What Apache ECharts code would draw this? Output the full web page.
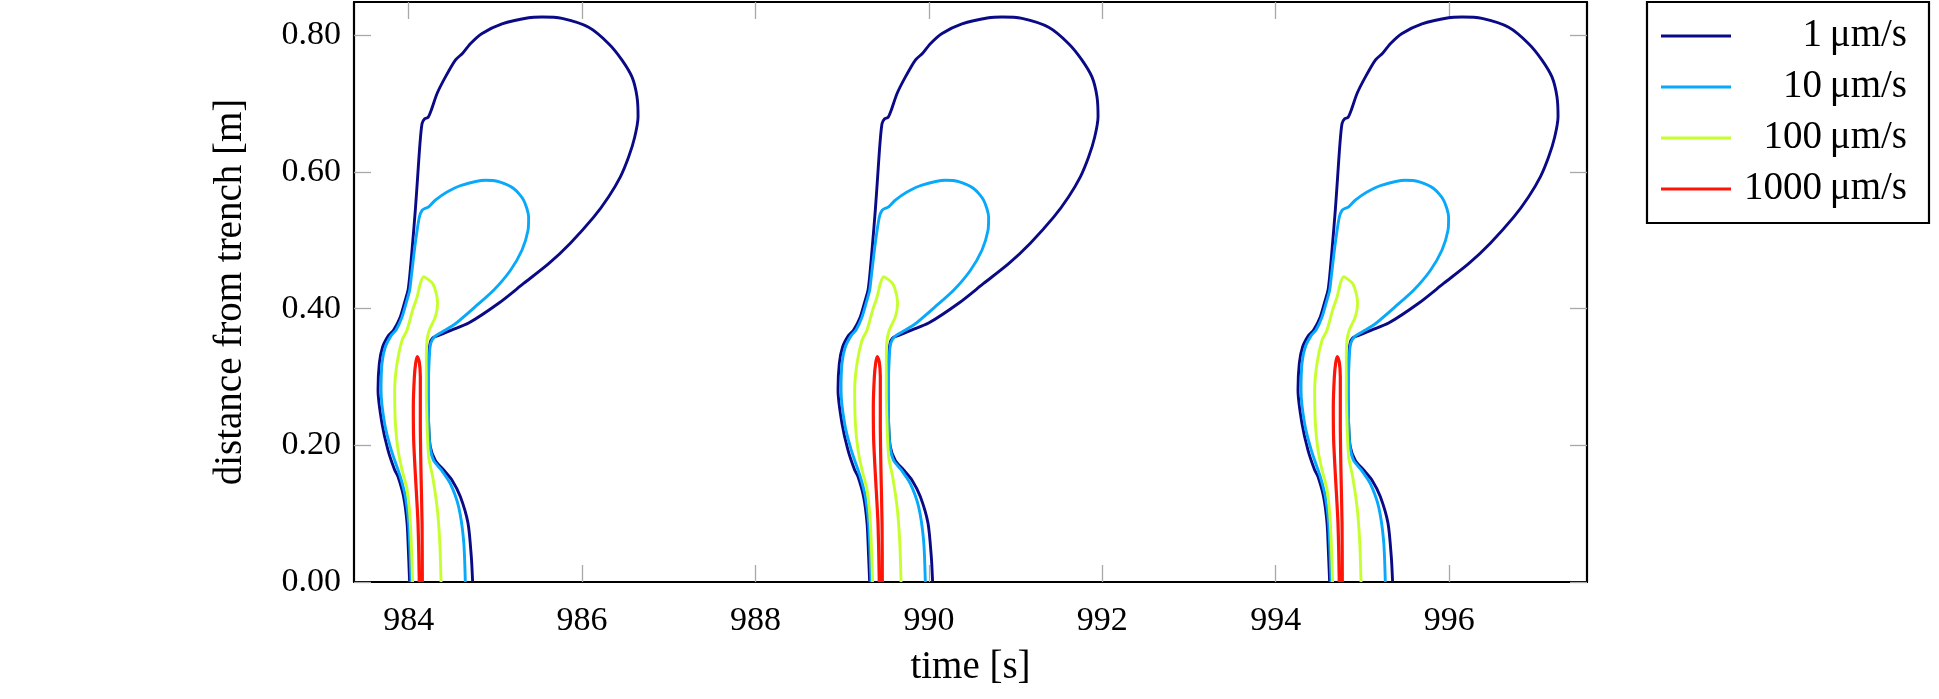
<!DOCTYPE html>
<html>
<head>
<meta charset="utf-8">
<script src="https://cdn.jsdelivr.net/npm/echarts@6/dist/echarts.min.js"></script>
<style>
html,body{margin:0;padding:0;background:#fff;}
#chart{width:1939px;height:699px;}
</style>
</head>
<body>
<div id="chart"></div>
<script>
// ---- data (first cycle; the pattern repeats) ----
const seriesNames = ['1\u2009\u03bcm/s', '10\u2009\u03bcm/s', '100\u2009\u03bcm/s', '1000\u2009\u03bcm/s'];
const cycleShift = [0, 5.305, 10.61];
const xTicks = [984, 986, 988, 990, 992, 994, 996];
const yTicks = [0, 0.2, 0.4, 0.6, 0.8];

const time1 = [984.012,984.000,983.982,983.942,983.878,983.839,983.762,983.693,983.647,983.662,983.700,983.769,983.827,983.904,983.962,983.993,984.012,984.046,984.077,984.104,984.131,984.155,984.185,984.224,984.262,984.328,984.423,984.539,984.623,984.712,984.847,985.077,985.384,985.539,985.769,986.076,986.307,986.461,986.577,986.634,986.646,986.607,986.537,986.442,986.307,986.134,985.865,985.615,985.326,985.038,984.692,984.501,984.346,984.277,984.247,984.231,984.224,984.231,984.250,984.308,984.404,984.501,984.596,984.685,984.723,984.738];
const dist1 = [0.000,0.037,0.086,0.125,0.154,0.164,0.193,0.232,0.281,0.320,0.344,0.361,0.369,0.388,0.413,0.427,0.447,0.496,0.544,0.593,0.642,0.671,0.678,0.680,0.691,0.715,0.739,0.764,0.774,0.788,0.803,0.817,0.826,0.827,0.825,0.812,0.788,0.764,0.739,0.710,0.681,0.651,0.622,0.593,0.564,0.534,0.496,0.466,0.437,0.408,0.379,0.369,0.361,0.357,0.349,0.330,0.281,0.232,0.198,0.178,0.164,0.149,0.125,0.086,0.037,0.000];

const time10 = [984.028,984.000,983.962,983.904,983.800,983.723,983.682,983.693,983.731,983.800,983.855,983.924,983.982,984.012,984.031,984.077,984.123,984.155,984.193,984.231,984.308,984.443,984.616,984.885,985.038,985.211,985.326,985.384,985.377,985.308,985.173,984.980,984.769,984.539,984.385,984.300,984.254,984.239,984.227,984.231,984.247,984.288,984.377,984.481,984.577,984.634,984.654];
const dist10 = [0.000,0.086,0.125,0.154,0.193,0.232,0.281,0.320,0.344,0.361,0.369,0.388,0.413,0.427,0.447,0.496,0.534,0.544,0.547,0.549,0.559,0.571,0.581,0.588,0.586,0.576,0.559,0.534,0.515,0.486,0.456,0.427,0.403,0.378,0.366,0.359,0.349,0.330,0.281,0.232,0.198,0.178,0.164,0.144,0.110,0.061,0.000];

const time100 = [984.046,984.020,983.982,983.924,983.878,983.847,983.839,983.866,983.924,983.982,984.046,984.097,984.135,984.173,984.212,984.277,984.319,984.334,984.308,984.239,984.212,984.204,984.204,984.212,984.231,984.277,984.328,984.358,984.374];
const dist100 = [0.000,0.086,0.135,0.164,0.193,0.232,0.281,0.320,0.354,0.369,0.398,0.417,0.437,0.447,0.444,0.437,0.422,0.408,0.388,0.369,0.354,0.330,0.281,0.232,0.183,0.154,0.110,0.061,0.000];

const time1000 = [984.123,984.108,984.077,984.058,984.054,984.066,984.081,984.100,984.123,984.135,984.135,984.143,984.155,984.158];
const dist1000 = [0.000,0.086,0.159,0.208,0.256,0.300,0.320,0.330,0.322,0.300,0.232,0.159,0.086,0.000];

// ---- build chart ----
const times = [time1, time10, time100, time1000];
const dists = [dist1, dist10, dist100, dist1000];
const colors = ['#0a0a86', '#08a8fa', '#c6ff2e', '#ff1408'];
const widths = [2.9, 2.9, 2.9, 3.2];
const FONT = 'Liberation Serif';

const series = [];
seriesNames.forEach((name, i) => {
  cycleShift.forEach(shift => {
    series.push({
      name: name,
      type: 'line',
      symbol: 'none',
      smooth: 0.25,
      animation: false,
      color: colors[i],
      lineStyle: {color: colors[i], width: widths[i]},
      data: times[i].map((t, k) => [t + shift, dists[i][k]])
    });
  });
});

const tickStyle = {show: true, inside: true, length: 17, lineStyle: {color: '#a8a8a8', width: 1.3}};
const lineStyle = {show: true, onZero: false, lineStyle: {color: '#000', width: 2.2}};

const chart = echarts.init(document.getElementById('chart'), null, {renderer: 'canvas'});
chart.setOption({
  backgroundColor: '#fff',
  animation: false,
  textStyle: {fontFamily: FONT},
  grid: {left: 354, right: 352, top: 2, bottom: 117},
  legend: {
    orient: 'vertical',
    left: 1647, top: 2,
    padding: [14, 22, 14, 14],
    itemGap: 11,
    icon: 'rect',
    itemWidth: 70, itemHeight: 3,
    borderColor: '#000', borderWidth: 2.2, borderRadius: 0,
    data: seriesNames,
    formatter: n => '{r|' + n + '}',
    textStyle: {
      fontFamily: FONT, fontSize: 39, color: '#000', lineHeight: 40,
      rich: {r: {fontFamily: FONT, fontSize: 39, color: '#000', width: 171, align: 'right', lineHeight: 40}}
    }
  },
  xAxis: [{
    type: 'value', min: 983.37, max: 997.59, position: 'bottom',
    name: 'time [s]', nameLocation: 'middle', nameGap: 66,
    nameTextStyle: {fontFamily: FONT, fontSize: 39, color: '#000'},
    axisLine: lineStyle,
    axisTick: Object.assign({customValues: xTicks}, tickStyle),
    axisLabel: {customValues: xTicks, margin: 22, fontFamily: FONT, fontSize: 34, color: '#000', formatter: v => String(v)},
    splitLine: {show: false}
  }, {
    type: 'value', min: 983.37, max: 997.59, position: 'top',
    axisLine: lineStyle,
    axisTick: Object.assign({customValues: xTicks}, tickStyle),
    axisLabel: {show: false},
    splitLine: {show: false}
  }],
  yAxis: [{
    type: 'value', min: 0, max: 0.849, position: 'left',
    name: 'distance from trench [m]', nameLocation: 'middle', nameGap: 104,
    nameTextStyle: {fontFamily: FONT, fontSize: 39, color: '#000'},
    axisLine: lineStyle,
    axisTick: Object.assign({customValues: yTicks}, tickStyle),
    axisLabel: {customValues: yTicks, margin: 13, fontFamily: FONT, fontSize: 34, color: '#000', formatter: v => v.toFixed(2)},
    splitLine: {show: false}
  }, {
    type: 'value', min: 0, max: 0.849, position: 'right',
    axisLine: lineStyle,
    axisTick: Object.assign({customValues: yTicks}, tickStyle),
    axisLabel: {show: false},
    splitLine: {show: false}
  }],
  series: series
});
</script>
</body>
</html>
